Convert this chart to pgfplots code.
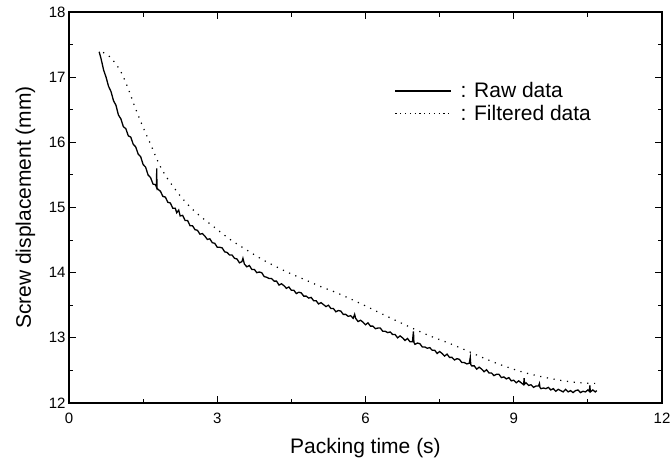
\documentclass[border=0pt]{standalone}
\usepackage{pgfplots}
\pgfplotsset{compat=1.18}
\usepackage{fontspec}
\setmainfont{Liberation Sans}
\begin{document}
\begin{tikzpicture}
\begin{axis}[
  at={(0pt,0pt)}, anchor=south west,
  scale only axis, width=593pt, height=391pt,
  xmin=0, xmax=12, ymin=12, ymax=18,
  xtick={0,3,6,9,12}, ytick={12,13,14,15,16,17,18},
  minor xtick={1.5,4.5,7.5,10.5},
  minor ytick={12.5,13.5,14.5,15.5,16.5,17.5},
  tick align=inside,
  major tick length=7pt, minor tick length=4.5pt,
  axis line style={line width=1.2pt},
  every tick/.style={line width=1.1pt, black},
  /pgf/number format/assume math mode=true,
  tick label style={font=\fontsize{15}{18}\selectfont},
  xticklabel style={yshift=-6pt},
  xlabel={Packing time (s)},
  ylabel={Screw displacement (mm)},
  label style={font=\fontsize{21}{25}\selectfont},
  xlabel style={at={(axis description cs:0.5,-0.1279)}, anchor=base},
  ylabel style={at={(axis description cs:-0.0641,0.5)}, anchor=base},
  legend style={draw=none, fill=none, at={(axis description cs:0.549,0.824)}, anchor=north west,
    font=\fontsize{21}{25}\selectfont, row sep=3pt, inner sep=0pt,
    nodes={inner sep=1.5pt, anchor=west}},
  legend cell align=left,
]
\addplot[black, line width=1.3pt,
  legend image code/.code={\draw[black, line width=1.3pt] (0pt,0pt) -- (56pt,0pt); \path (63pt,0pt);}]
  coordinates {
(0.61,17.39) (0.65,17.28) (0.70,17.11) (0.75,17.00) (0.80,16.86) (0.85,16.78)
(0.90,16.64) (0.95,16.57) (1.00,16.42) (1.05,16.36) (1.10,16.24) (1.15,16.21)
(1.20,16.10) (1.25,16.08) (1.30,15.97) (1.35,15.93) (1.40,15.82) (1.45,15.78)
(1.50,15.66) (1.55,15.62) (1.60,15.50) (1.65,15.46) (1.70,15.36) (1.75,15.35)
(1.77,15.31) (1.775,15.60) (1.78,15.30) (1.80,15.28) (1.85,15.25) (1.90,15.17)
(1.95,15.16) (2.00,15.08) (2.05,15.07) (2.10,14.99) (2.15,14.99) (2.18,14.92)
(2.22,14.96) (2.25,14.87) (2.30,14.88) (2.35,14.80) (2.40,14.80) (2.45,14.72)
(2.50,14.72) (2.55,14.66) (2.60,14.65) (2.65,14.59) (2.70,14.60) (2.75,14.56)
(2.80,14.51) (2.85,14.52) (2.90,14.46) (2.95,14.45) (3.00,14.39) (3.05,14.39)
(3.10,14.38) (3.15,14.32) (3.20,14.31) (3.25,14.27) (3.30,14.27) (3.35,14.22)
(3.40,14.21) (3.45,14.15) (3.50,14.17) (3.52,14.22) (3.55,14.13) (3.60,14.09)
(3.65,14.11) (3.70,14.05) (3.75,14.05) (3.80,14.00) (3.85,14.01) (3.90,14.00)
(3.95,13.94) (4.00,13.93) (4.05,13.91) (4.10,13.91) (4.15,13.87) (4.20,13.87)
(4.25,13.81) (4.30,13.83) (4.35,13.80) (4.40,13.76) (4.45,13.78) (4.50,13.73)
(4.55,13.73) (4.60,13.68) (4.65,13.70) (4.70,13.69) (4.75,13.64) (4.80,13.64)
(4.85,13.61) (4.90,13.62) (4.95,13.57) (5.00,13.57) (5.05,13.52) (5.10,13.54)
(5.15,13.51) (5.20,13.48) (5.25,13.50) (5.30,13.45) (5.35,13.45) (5.40,13.40)
(5.45,13.42) (5.50,13.41) (5.55,13.36) (5.60,13.36) (5.65,13.33) (5.70,13.34)
(5.75,13.30) (5.78,13.36) (5.80,13.30) (5.85,13.25) (5.90,13.27) (5.95,13.24)
(6.00,13.20) (6.05,13.23) (6.10,13.18) (6.15,13.18) (6.20,13.14) (6.25,13.15)
(6.30,13.15) (6.35,13.10) (6.40,13.10) (6.45,13.08) (6.50,13.09) (6.55,13.05)
(6.60,13.05) (6.65,13.00) (6.70,13.03) (6.75,13.00) (6.80,12.96) (6.85,12.99)
(6.90,12.94) (6.95,12.94) (6.97,13.10) (6.98,12.93) (7.00,12.90) (7.05,12.92)
(7.10,12.91) (7.15,12.86) (7.20,12.86) (7.25,12.84) (7.30,12.85) (7.35,12.81)
(7.40,12.81) (7.45,12.76) (7.50,12.79) (7.55,12.76) (7.60,12.72) (7.65,12.75)
(7.70,12.70) (7.75,12.70) (7.80,12.66) (7.85,12.68) (7.90,12.67) (7.95,12.62)
(8.00,12.62) (8.05,12.60) (8.10,12.61) (8.12,12.70) (8.13,12.59) (8.15,12.57)
(8.20,12.57) (8.25,12.52) (8.30,12.55) (8.35,12.52) (8.40,12.48) (8.45,12.51)
(8.50,12.46) (8.55,12.46) (8.60,12.42) (8.65,12.44) (8.70,12.44) (8.75,12.39)
(8.80,12.40) (8.85,12.37) (8.90,12.39) (8.95,12.34) (9.00,12.35) (9.05,12.31)
(9.10,12.34) (9.15,12.31) (9.20,12.28) (9.21,12.38) (9.22,12.29) (9.25,12.31)
(9.30,12.27) (9.35,12.28) (9.40,12.24) (9.45,12.26) (9.50,12.26) (9.52,12.30)
(9.53,12.24) (9.55,12.22) (9.60,12.23) (9.65,12.22) (9.70,12.24) (9.75,12.20)
(9.80,12.22) (9.85,12.18) (9.90,12.21) (9.95,12.19) (10.00,12.17) (10.05,12.21)
(10.10,12.17) (10.15,12.19) (10.20,12.16) (10.25,12.19) (10.30,12.20) (10.35,12.16)
(10.40,12.18) (10.45,12.17) (10.50,12.20) (10.53,12.18) (10.54,12.27) (10.55,12.17)
(10.60,12.20) (10.65,12.17) (10.68,12.19)
};
\addlegendentry{: Raw data}
\addplot[black, line width=1.2pt, dash pattern=on 1.2pt off 5.6pt, smooth,
  legend image code/.code={\draw[black, line width=1.2pt, dash pattern=on 1.2pt off 3.6pt] (0pt,0pt) -- (56pt,0pt); \path (63pt,0pt);}]
  coordinates {
(0.69,17.38) (0.80,17.33) (0.90,17.25) (1.03,17.11) (1.13,16.95) (1.23,16.76)
(1.33,16.55) (1.44,16.34) (1.54,16.16) (1.64,15.99) (1.74,15.81) (1.84,15.64)
(1.97,15.47) (2.11,15.32) (2.27,15.16) (2.45,15.01) (2.65,14.87) (2.92,14.71)
(3.26,14.51) (3.55,14.37) (3.87,14.22) (4.17,14.10) (4.47,13.99) (4.78,13.89)
(5.08,13.79) (5.39,13.70) (5.69,13.60) (6.00,13.49) (6.30,13.38) (6.63,13.26)
(7.00,13.13) (7.30,13.03) (7.65,12.93) (8.00,12.82) (8.30,12.72) (8.65,12.61)
(8.99,12.52) (9.30,12.45) (9.65,12.39) (10.01,12.34) (10.35,12.31) (10.68,12.30)
};
\addlegendentry{: Filtered data}
\end{axis}
\pgfresetboundingbox
\path[use as bounding box] (-69pt,-58pt) rectangle (603pt,403pt);
\end{tikzpicture}
\end{document}
